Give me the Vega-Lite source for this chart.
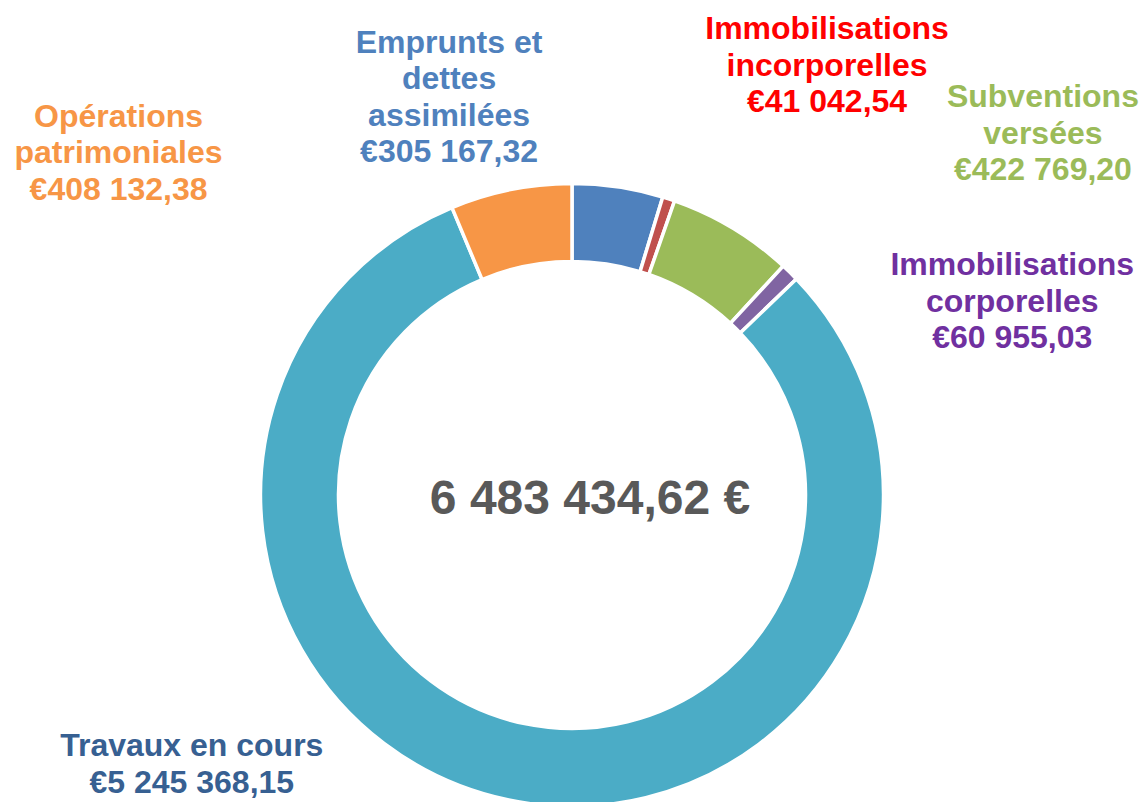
{
  "$schema": "https://vega.github.io/schema/vega-lite/v6.json",
  "width": 1140,
  "height": 614,
  "autosize": {"type": "none"},
  "padding": {"left": 2, "top": 188, "right": 0, "bottom": 0},
  "background": "#ffffff",
  "config": {
    "view": {"stroke": null},
    "font": "Liberation Sans",
    "locale": {
      "number": {"decimal": ",", "thousands": " ", "grouping": [3], "currency": ["€", ""]}
    }
  },
  "data": {
    "values": [
      {"rang": 1, "libelle": "Emprunts et\ndettes\nassimilées", "montant": 305167.32},
      {"rang": 2, "libelle": "Immobilisations\nincorporelles", "montant": 41042.54},
      {"rang": 3, "libelle": "Subventions\nversées", "montant": 422769.20},
      {"rang": 4, "libelle": "Immobilisations\ncorporelles", "montant": 60955.03},
      {"rang": 5, "libelle": "Travaux en cours", "montant": 5245368.15},
      {"rang": 6, "libelle": "Opérations\npatrimoniales", "montant": 408132.38}
    ]
  },
  "transform": [
    {"stack": "montant", "groupby": [], "sort": [{"field": "rang", "order": "ascending"}], "as": ["debut", "fin"]},
    {"calculate": "(datum.debut + datum.fin) / 2", "as": "milieu"},
    {"calculate": "datum.libelle + '\\n' + format(datum.montant, '$,.2f')", "as": "etiquette"}
  ],
  "layer": [
    {
      "mark": {"type": "arc", "radius": 311.5, "radius2": 233.5, "stroke": "#ffffff", "strokeWidth": 3.5},
      "encoding": {
        "theta": {"field": "montant", "type": "quantitative", "stack": true},
        "order": {"field": "rang", "type": "quantitative", "sort": "ascending"},
        "color": {
          "field": "rang",
          "type": "nominal",
          "scale": {"domain": [1, 2, 3, 4, 5, 6], "range": ["#4F81BD", "#C0504D", "#9BBB59", "#8064A2", "#4BACC6", "#F79646"]},
          "legend": null
        }
      }
    },
    {
      "transform": [{"filter": "datum.rang === 1"}],
      "mark": {"type": "text", "radius": 272, "dx": -163, "dy": -173, "align": "center", "baseline": "alphabetic", "lineBreak": "\n", "lineHeight": 36.5, "fontSize": 32, "fontWeight": "bold", "color": "#4F81BD"},
      "encoding": {"theta": {"field": "milieu", "type": "quantitative"}, "text": {"field": "etiquette"}}
    },
    {
      "transform": [{"filter": "datum.rang === 2"}],
      "mark": {"type": "text", "radius": 272, "dx": 170.6, "dy": -197, "align": "center", "baseline": "alphabetic", "lineBreak": "\n", "lineHeight": 36.5, "fontSize": 32, "fontWeight": "bold", "color": "#FF0000"},
      "encoding": {"theta": {"field": "milieu", "type": "quantitative"}, "text": {"field": "etiquette"}}
    },
    {
      "transform": [{"filter": "datum.rang === 3"}],
      "mark": {"type": "text", "radius": 272, "dx": 331, "dy": -154.5, "align": "center", "baseline": "alphabetic", "lineBreak": "\n", "lineHeight": 36.5, "fontSize": 32, "fontWeight": "bold", "color": "#9BBB59"},
      "encoding": {"theta": {"field": "milieu", "type": "quantitative"}, "text": {"field": "etiquette"}}
    },
    {
      "transform": [{"filter": "datum.rang === 4"}],
      "mark": {"type": "text", "radius": 272, "dx": 250, "dy": -25.6, "align": "center", "baseline": "alphabetic", "lineBreak": "\n", "lineHeight": 36.5, "fontSize": 32, "fontWeight": "bold", "color": "#7030A0"},
      "encoding": {"theta": {"field": "milieu", "type": "quantitative"}, "text": {"field": "etiquette"}}
    },
    {
      "transform": [{"filter": "datum.rang === 5"}],
      "mark": {"type": "text", "radius": 272, "dx": -325, "dy": -5.3, "align": "center", "baseline": "alphabetic", "lineBreak": "\n", "lineHeight": 36.5, "fontSize": 32, "fontWeight": "bold", "color": "#376092"},
      "encoding": {"theta": {"field": "milieu", "type": "quantitative"}, "text": {"field": "etiquette"}}
    },
    {
      "transform": [{"filter": "datum.rang === 6"}],
      "mark": {"type": "text", "radius": 272, "dx": -400, "dy": -101.6, "align": "center", "baseline": "alphabetic", "lineBreak": "\n", "lineHeight": 36.5, "fontSize": 32, "fontWeight": "bold", "color": "#F79646"},
      "encoding": {"theta": {"field": "milieu", "type": "quantitative"}, "text": {"field": "etiquette"}}
    },
    {
      "transform": [
        {"aggregate": [{"op": "sum", "field": "montant", "as": "total"}]},
        {"calculate": "format(datum.total, ',.2f') + ' €'", "as": "texte"}
      ],
      "mark": {"type": "text", "align": "center", "baseline": "alphabetic", "dx": 18, "dy": 19, "fontSize": 48, "fontWeight": "bold", "color": "#595959"},
      "encoding": {"text": {"field": "texte"}}
    }
  ]
}
